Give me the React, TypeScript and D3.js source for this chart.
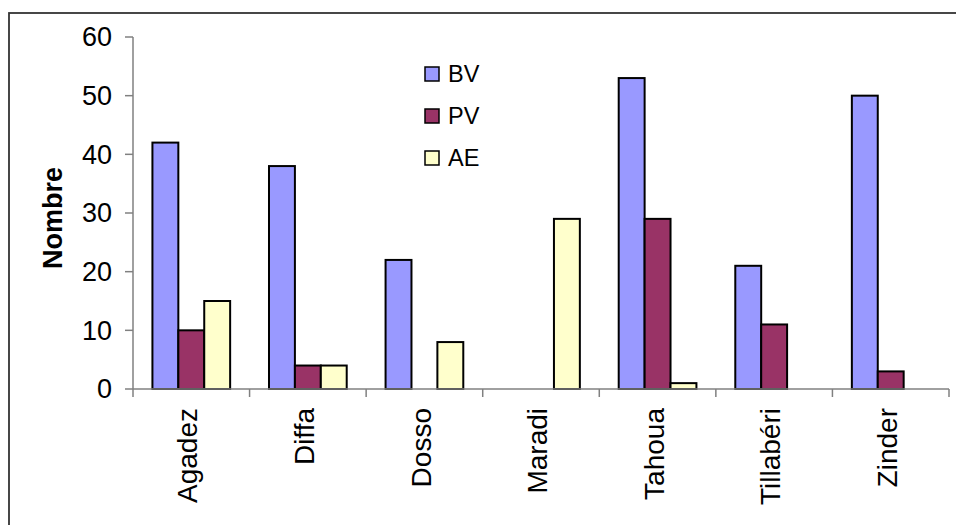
import React from "react";
import * as d3 from "d3";

const categories = ["Agadez", "Diffa", "Dosso", "Maradi", "Tahoua", "Tillabéri", "Zinder"];
const seriesNames = ["BV", "PV", "AE"];
const bvValues = [42, 38, 22, 0, 53, 21, 50];
const pvValues = [10, 4, 0, 0, 29, 11, 3];
const aeValues = [15, 4, 8, 29, 1, 0, 0];
const yTicks = [0, 10, 20, 30, 40, 50, 60];
const colors = ["#9999FF", "#993366", "#FFFFCC"];

const W = 956;
const H = 525;
const FONT = "'Liberation Sans', Arial, sans-serif";

export default function App() {
  const series = [bvValues, pvValues, aeValues];
  const x0 = 133;
  const x1 = 949;
  const yTop = 37;
  const yBottom = 389;

  const x = d3.scaleBand<string>().domain(categories).range([x0, x1]).paddingInner(0).paddingOuter(0);
  const y = d3.scaleLinear().domain([0, 60]).range([yBottom, yTop]);
  const groupW = x.bandwidth() * (2 / 3);
  const inner = d3
    .scaleBand<string>()
    .domain(seriesNames)
    .range([(x.bandwidth() - groupW) / 2, (x.bandwidth() + groupW) / 2]);

  const axisColor = "#808080";

  return (
    <svg
      width={W}
      height={H}
      style={{ position: "absolute", left: 0, top: 0, background: "#fff" }}
      fontFamily={FONT}
    >
      <rect x={0} y={0} width={W} height={H} fill="#fff" />
      <rect x={9} y={13} width={W + 20} height={H + 20} fill="none" stroke="#333" strokeWidth={1.8} />

      {/* axes */}
      <line x1={x0} x2={x0} y1={yTop} y2={yBottom} stroke={axisColor} strokeWidth={1.5} />
      {yTicks.map((t) => (
        <g key={t}>
          <line x1={x0 - 8} x2={x0} y1={y(t)} y2={y(t)} stroke={axisColor} strokeWidth={1.5} />
          <text x={x0 - 21} y={y(t)} dy="0.35em" textAnchor="end" fontSize={27} fill="#000">
            {t}
          </text>
        </g>
      ))}

      {/* bars */}
      {categories.map((c, ci) => (
        <g key={c} transform={`translate(${x(c)},0)`}>
          {series.map((vals, si) =>
            vals[ci] > 0 ? (
              <rect
                key={si}
                x={inner(seriesNames[si])}
                y={y(vals[ci])}
                width={inner.bandwidth()}
                height={y(0) - y(vals[ci])}
                fill={colors[si]}
                stroke="#000"
                strokeWidth={2}
              />
            ) : null
          )}
        </g>
      ))}

      <line x1={x0} x2={x1} y1={yBottom} y2={yBottom} stroke={axisColor} strokeWidth={1.5} />
      {d3.range(categories.length + 1).map((i) => {
        const xx = x0 + i * x.step();
        return <line key={i} x1={xx} x2={xx} y1={yBottom} y2={yBottom + 8} stroke={axisColor} strokeWidth={1.5} />;
      })}

      {categories.map((c) => {
        const cx = (x(c) as number) + x.bandwidth() / 2;
        return (
          <text
            key={c}
            transform={`translate(${cx},408) rotate(-90)`}
            dy="0.22em"
            textAnchor="end"
            fontSize={28}
            fill="#000"
          >
            {c}
          </text>
        );
      })}

      {/* y axis title */}
      <text
        transform="translate(53,218) rotate(-90)"
        dy="0.35em"
        textAnchor="middle"
        fontSize={27}
        fontWeight="bold"
        fill="#000"
      >
        Nombre
      </text>

      {/* legend */}
      {seriesNames.map((n, i) => {
        const cy = 74 + i * 42;
        return (
          <g key={n}>
            <rect x={425} y={cy - 7} width={14} height={14} fill={colors[i]} stroke="#000" strokeWidth={1.5} />
            <text x={448} y={cy} dy="0.35em" fontSize={23.5} fill="#000">
              {n}
            </text>
          </g>
        );
      })}
    </svg>
  );
}
